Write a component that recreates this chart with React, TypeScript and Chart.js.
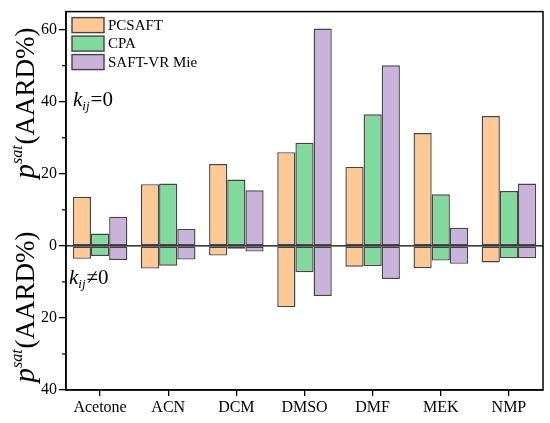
import React, { useEffect, useRef } from "react";
import { Chart, registerables } from "chart.js";

Chart.register(...registerables);

const solvents = ["Acetone", "ACN", "DCM", "DMSO", "DMF", "MEK", "NMP"];
const models = ["PCSAFT", "CPA", "SAFT-VR Mie"];
const colors = ["#ffc994", "#80da9b", "#c9b3da"];

// kij = 0 (drawn upward)
const pcsaftK0 = [13.6, 17.1, 22.7, 26.0, 21.9, 31.3, 36.0];
const cpaK0 = [3.4, 17.3, 18.4, 28.6, 36.5, 14.3, 15.2];
const mieK0 = [8.1, 4.7, 15.4, 60.3, 50.1, 5.0, 17.3];

// kij != 0 (drawn downward)
const pcsaftK1 = [3.6, 6.3, 2.7, 17.0, 5.8, 6.2, 4.6];
const cpaK1 = [2.8, 5.5, 0.8, 7.3, 5.6, 4.1, 3.4];
const mieK1 = [3.9, 3.8, 1.6, 13.9, 9.2, 5.0, 3.4];

const majorTicks = [-40, -20, 0, 20, 40, 60];
const minorTicks = [-30, -10, 10, 30, 50];

const SERIF = "'Liberation Serif', 'Times New Roman', serif";

const decorPlugin = {
  id: "decor",
  afterDatasetsDraw(chart) {
    const { ctx, chartArea: a, scales } = chart;
    const y = scales.y;
    ctx.save();
    // zero line
    const y0 = y.getPixelForValue(0);
    ctx.strokeStyle = "#000";
    ctx.lineWidth = 1.4;
    ctx.beginPath();
    ctx.moveTo(a.left, y0);
    ctx.lineTo(a.right, y0);
    ctx.stroke();
    // frame
    ctx.lineWidth = 1.5;
    ctx.strokeRect(a.left, a.top, a.right - a.left, a.bottom - a.top);
    // minor ticks
    ctx.lineWidth = 1.2;
    minorTicks.forEach((v) => {
      const py = y.getPixelForValue(v);
      ctx.beginPath();
      ctx.moveTo(a.left - 4, py);
      ctx.lineTo(a.left, py);
      ctx.stroke();
    });

    // legend
    ctx.font = `15px ${SERIF}`;
    ctx.textBaseline = "middle";
    ctx.textAlign = "left";
    models.forEach((m, i) => {
      const by = a.top + 6 + i * 18.5;
      ctx.fillStyle = colors[i];
      ctx.fillRect(a.left + 6, by, 32, 15);
      ctx.strokeStyle = "#444";
      ctx.lineWidth = 1.4;
      ctx.strokeRect(a.left + 6, by, 32, 15);
      ctx.fillStyle = "#000";
      ctx.fillText(m, a.left + 42, by + 8);
    });

    // kij labels
    const drawK = (x, baseY, rest) => {
      ctx.textBaseline = "alphabetic";
      ctx.font = `italic 21px ${SERIF}`;
      ctx.fillText("k", x, baseY);
      let cx = x + ctx.measureText("k").width;
      ctx.font = `italic 13px ${SERIF}`;
      ctx.fillText("ij", cx, baseY + 4);
      cx += ctx.measureText("ij").width + 1;
      ctx.font = `21px ${SERIF}`;
      ctx.fillText(rest, cx, baseY);
    };
    drawK(a.left + 7, 106, "=0");
    drawK(a.left + 3, 284, "\u22600");

    // y titles
    const drawTitle = (cy) => {
      ctx.save();
      ctx.translate(34, cy);
      ctx.rotate(-Math.PI / 2);
      ctx.textBaseline = "alphabetic";
      ctx.textAlign = "left";
      ctx.font = `italic 29px ${SERIF}`;
      const wp = ctx.measureText("p").width;
      ctx.font = `italic 16px ${SERIF}`;
      const ws = ctx.measureText("sat").width;
      ctx.font = `27px ${SERIF}`;
      const wr = ctx.measureText("(AARD%)").width;
      const total = wp + ws + 1 + wr;
      let x = -total / 2;
      ctx.font = `italic 29px ${SERIF}`;
      ctx.fillText("p", x, 0);
      x += wp;
      ctx.font = `italic 16px ${SERIF}`;
      ctx.fillText("sat", x, -12);
      x += ws + 1;
      ctx.font = `27px ${SERIF}`;
      ctx.fillText("(AARD%)", x, 0);
      ctx.restore();
    };
    ctx.fillStyle = "#000";
    drawTitle(103);
    drawTitle(307);
    ctx.restore();
  },
};

function makeSet(label, data, i, sign) {
  return {
    label,
    data: data.map((v) => v * sign),
    backgroundColor: colors[i],
    borderColor: "#444",
    borderWidth: 1.4,
    borderSkipped: false,
    stack: "s" + i,
    categoryPercentage: 0.8,
    barPercentage: 1.0,
  };
}

const App = () => {
  const canvasRef = useRef(null);

  useEffect(() => {
    const ctx = canvasRef.current.getContext("2d");
    const chart = new Chart(ctx, {
      type: "bar",
      data: {
        labels: solvents,
        datasets: [
          makeSet(models[0], pcsaftK0, 0, 1),
          makeSet(models[1], cpaK0, 1, 1),
          makeSet(models[2], mieK0, 2, 1),
          makeSet(models[0] + " kij", pcsaftK1, 0, -1),
          makeSet(models[1] + " kij", cpaK1, 1, -1),
          makeSet(models[2] + " kij", mieK1, 2, -1),
        ],
      },
      options: {
        responsive: false,
        animation: false,
        layout: { padding: { top: 6, right: 7, left: 0, bottom: 0 } },
        plugins: {
          legend: { display: false },
          tooltip: { enabled: false },
        },
        scales: {
          x: {
            stacked: true,
            offset: true,
            grid: {
              display: true,
              drawOnChartArea: false,
              offset: false,
              color: "#000",
              tickLength: 6,
              lineWidth: 1.3,
            },
            border: { color: "#000", width: 1.5 },
            ticks: {
              color: "#000",
              font: { family: SERIF, size: 16 },
              padding: 2,
              maxRotation: 0,
            },
            afterFit(scale) {
              scale.height = 33;
            },
          },
          y: {
            stacked: true,
            min: -40,
            max: 65,
            afterBuildTicks(scale) {
              scale.ticks = majorTicks.map((v) => ({ value: v }));
            },
            grid: {
              drawOnChartArea: false,
              color: "#000",
              tickColor: "#000",
              tickLength: 7,
              lineWidth: 1.3,
            },
            border: { color: "#000", width: 1.5 },
            ticks: {
              color: "#000",
              font: { family: SERIF, size: 16 },
              padding: 2,
              callback: (v) => String(Math.abs(Number(v))),
            },
            afterFit(scale) {
              scale.width = 66;
            },
          },
        },
      },
      plugins: [decorPlugin],
    });
    return () => {
      chart.destroy();
    };
  }, []);

  return (
    <div style={{ position: "absolute", left: 0, top: 0, width: 550, height: 423, background: "#fff" }}>
      <canvas ref={canvasRef} width={550} height={423} />
    </div>
  );
};

export default App;
